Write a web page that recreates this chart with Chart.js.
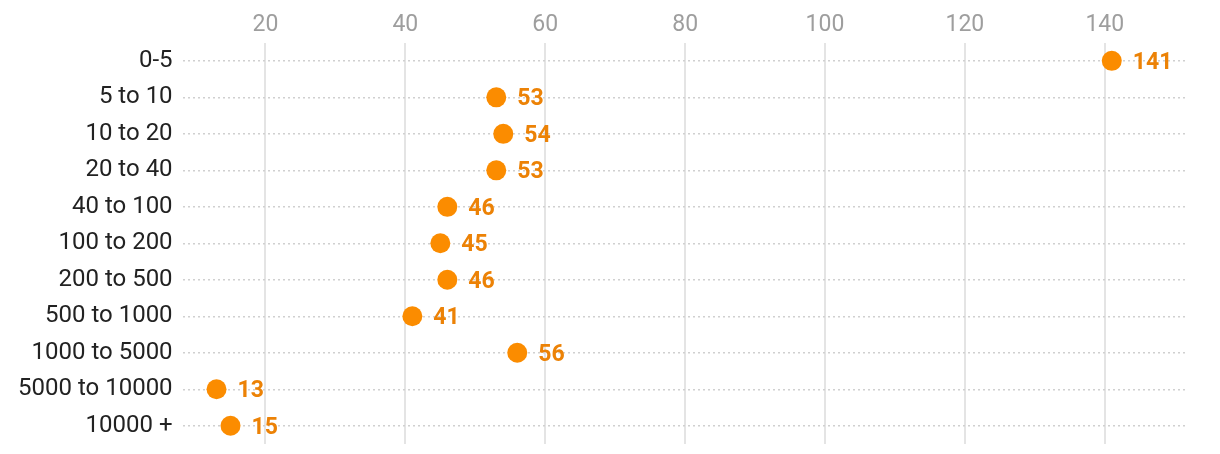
<!DOCTYPE html>
<html>
<head>
<meta charset="utf-8">
<script src="https://cdn.jsdelivr.net/npm/chart.js@4/dist/chart.umd.min.js"></script>
<style>
  html, body { margin: 0; padding: 0; background: #fff; }
  #wrap { width: 1220px; height: 454px; }
</style>
</head>
<body>
<div id="wrap"><canvas id="dotChart"></canvas></div>
<script>
const categories = ['0-5', '5 to 10', '10 to 20', '20 to 40', '40 to 100', '100 to 200',
    '200 to 500', '500 to 1000', '1000 to 5000', '5000 to 10000', '10000 +'];
const counts = [141, 53, 54, 53, 46, 45, 46, 41, 56, 13, 15];
const tickValues = [20, 40, 60, 80, 100, 120, 140];

// draws the value next to each dot
const valueLabels = {
    id: 'valueLabels',
    afterDatasetsDraw(chart) {
        const ctx = chart.ctx;
        const meta = chart.getDatasetMeta(0);
        ctx.save();
        ctx.font = 'bold 23px Roboto';
        ctx.fillStyle = '#ec8206';
        ctx.textAlign = 'left';
        ctx.textBaseline = 'middle';
        meta.data.forEach((pt, i) => {
            ctx.fillText(counts[i], pt.x + 21, pt.y + 2);
        });
        ctx.restore();
    }
};

new Chart(document.getElementById('dotChart'), {
    type: 'line',
    data: {
        labels: categories,
        datasets: [{
            data: counts,
            showLine: false,
            pointRadius: 10,
            pointHoverRadius: 10,
            pointBackgroundColor: '#fb8c00',
            pointBorderWidth: 0
        }]
    },
    plugins: [valueLabels],
    options: {
        indexAxis: 'y',
        responsive: true,
        maintainAspectRatio: false,
        animation: false,
        layout: { padding: { left: 8, right: 32, top: 7, bottom: 5 } },
        plugins: { legend: { display: false }, tooltip: { enabled: false } },
        scales: {
            x: {
                type: 'linear',
                position: 'top',
                min: 8.15,
                max: 151.9,
                afterBuildTicks(scale) {
                    scale.ticks = tickValues.map(v => ({ value: v }));
                },
                grid: { color: '#e4e4e4', lineWidth: 2, drawTicks: false },
                border: { display: false },
                ticks: {
                    font: { family: 'Roboto', size: 23 },
                    color: '#9e9e9e',
                    padding: 4
                }
            },
            y: {
                type: 'category',
                offset: true,
                afterFit(scale) {
                    scale.paddingTop = 0;
                    scale.paddingBottom = 0;
                },
                grid: { color: '#d0d0d0', lineWidth: 1.5, offset: false, drawTicks: false },
                border: { display: false, dash: [2, 3] },
                ticks: {
                    font: { family: 'Roboto', size: 24 },
                    color: '#222',
                    padding: 10
                }
            }
        }
    }
});
</script>
</body>
</html>
